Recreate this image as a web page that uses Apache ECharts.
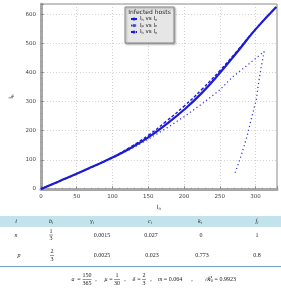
<!DOCTYPE html>
<html>
<head>
<meta charset="utf-8">
<script src="https://cdn.jsdelivr.net/npm/echarts@6/dist/echarts.min.js"></script>
<style>
  html, body { margin: 0; padding: 0; background: #fff; }
  #chart { width: 281px; height: 294px; }
</style>
</head>
<body>
<div id="chart"></div>
<script>
// curve data (I on the x axis, I on the y axis)
const hnX = [0, 25, 50, 75, 100, 125, 150, 175, 200, 225, 250, 275, 300, 329];
const hnY = [0, 26, 52, 80, 108, 140, 177, 222, 272, 330, 398, 472, 548, 625];

const pnX = [0, 50, 100, 125, 150, 175, 200, 225, 250, 268, 290, 312, 308, 304, 301, 295, 288, 280, 271];
const pnY = [0, 52, 106, 136, 171, 208, 248, 292, 340, 385, 428, 472, 420, 360, 306, 250, 180, 115, 52];

const hpX = [0, 50, 100, 125, 150, 175, 200, 225, 250, 275, 300, 329];
const hpY = [0, 52, 109, 144, 184, 232, 284, 342, 406, 476, 549, 625];

const seriesNames = ['hn', 'pn', 'hp'];
const legendSubs = [['h', 'n'], ['p', 'n'], ['h', 'n']];
const legendTitle = 'Infected hosts';

// parameter table
const colHeaders = [['i', ''], ['b', 'i'], ['γ', 'i'], ['c', 'i'], ['k', 'i'], ['f', 'i']];
const rowNames = ['n', 'p'];
const bFracs = [[1, 3], [2, 3]];
const gammaVals = ['0.0015', '0.0025'];
const cVals = ['0.027', '0.023'];
const kVals = ['0', '0.773'];
const fVals = ['1', '0.8'];

// constants under the table
const aFrac = [150, 365];
const muFrac = [1, 30];
const deltaFrac = [2, 3];
const mVal = '0.064';
const r0Val = '0.9923';

const serif = '"Liberation Serif", "DejaVu Serif", serif';
const sans = '"DejaVu Sans", "Liberation Sans", sans-serif';
const blue = '#1c1cd4';

const zip = (xs, ys) => xs.map((x, i) => [x, ys[i]]);

function txt(x, y, text, extra) {
    return {
        type: 'text', x: x, y: y, z: 10,
        style: Object.assign({
            text: text, fill: '#222', fontSize: 6, fontFamily: serif,
            align: 'center', verticalAlign: 'middle',
            textAlign: 'center', textVerticalAlign: 'middle',
        }, extra || {}),
    };
}

function frac(x, y, pair, w) {
    return [
        txt(x, y - 3.6, String(pair[0])),
        {type: 'line', z: 10, shape: {x1: x - w / 2, y1: y, x2: x + w / 2, y2: y},
            style: {stroke: '#333', lineWidth: 0.5}},
        txt(x, y + 3.9, String(pair[1])),
    ];
}

const subRich = {
    v: {fontSize: 6, fontStyle: 'italic', fontFamily: serif, fill: '#222'},
    s: {fontSize: 4, fontStyle: 'italic', fontFamily: serif, fill: '#222', padding: [3, 0, 0, 0]},
};

const colX = [16, 51, 102, 151, 201, 257];
const headerX = [16, 51, 92, 150, 200, 257];
const headerY = 221.5;
const rowY = [235, 255.5];

const graphics = [];

// legend box
graphics.push({
    type: 'rect', z: 3,
    shape: {x: 125, y: 7, width: 49, height: 36},
    style: {fill: '#e6e6e6', stroke: '#8a8a8a', lineWidth: 1,
        shadowBlur: 2, shadowOffsetX: 1, shadowOffsetY: 1, shadowColor: 'rgba(0,0,0,0.35)'},
});
graphics.push(txt(149.5, 12.5, legendTitle, {fontFamily: sans, fontSize: 6, fill: '#222'}));

// table header band
graphics.push({type: 'rect', z: 5, shape: {x: 0, y: 216, width: 281, height: 11},
    style: {fill: '#c2e3ec'}});
colHeaders.forEach((h, i) => {
    const s = h[1] ? `{v|${h[0]}}{s|${h[1]}}` : `{v|${h[0]}}`;
    graphics.push(txt(headerX[i], headerY, s, {rich: subRich}));
});

rowNames.forEach((r, j) => {
    const y = rowY[j];
    graphics.push(txt(colX[0] + j * 3, y, r, {fontStyle: 'italic'}));
    graphics.push(...frac(colX[1] + j, y, bFracs[j], 4));
    graphics.push(txt(colX[2], y, gammaVals[j]));
    graphics.push(txt(colX[3] + j, y, cVals[j]));
    graphics.push(txt(colX[4] + j, y, kVals[j]));
    graphics.push(txt(colX[5], y, fVals[j]));
});

graphics.push({type: 'line', z: 5, shape: {x1: 0, y1: 266.5, x2: 281, y2: 266.5},
    style: {stroke: '#6da7c6', lineWidth: 1}});

// constants line
const fy = 279.5;
const it = {fontStyle: 'italic'};
graphics.push(txt(73, fy, 'a', it));
graphics.push(txt(79, fy, '='));
graphics.push(...frac(87, fy, aFrac, 9));
graphics.push(txt(96, fy, ','));
graphics.push(txt(106, fy, 'μ', it));
graphics.push(txt(111, fy, '='));
graphics.push(...frac(117, fy, muFrac, 6));
graphics.push(txt(125, fy, ','));
graphics.push(txt(134, fy, 'δ', it));
graphics.push(txt(139, fy, '='));
graphics.push(...frac(144, fy, deltaFrac, 4));
graphics.push(txt(151, fy, ','));
graphics.push(txt(158, fy, `{v|m} = ${mVal}`, {align: 'left', textAlign: 'left', rich: {v: {fontStyle: 'italic', fontSize: 6, fontFamily: serif}}}));
graphics.push(txt(192, fy, ','));
graphics.push(txt(205, fy, `{r|ℛ}{s|0} = ${r0Val}`, {align: 'left', textAlign: 'left',
    rich: {r: {fontSize: 7, fontFamily: serif, fontStyle: 'italic'}, s: {fontSize: 4, fontFamily: serif, padding: [3, 0, 0, 0]}}}));

const axisRich = {
    i: {fontSize: 6, fontFamily: sans, color: '#333'},
    s: {fontSize: 4, fontFamily: sans, color: '#333', padding: [3, 0, 0, 0]},
};

const splitStyle = {show: true, lineStyle: {color: '#c4c4c4', type: [1, 2], width: 0.8}};

const option = {
    animation: false,
    backgroundColor: '#fff',
    grid: {left: 27, right: 4, top: 4, bottom: 105, show: true, borderColor: '#8a8a8a', borderWidth: 1},
    legend: {
        orient: 'vertical', left: 130, top: 16, padding: 0, itemGap: 0.5,
        itemWidth: 6, itemHeight: 4,
        data: seriesNames,
        formatter: name => {
            const sub = legendSubs[seriesNames.indexOf(name)];
            return `{i|I}{s|${sub[0]}}{i| vs I}{s|${sub[1]}}`;
        },
        textStyle: {fontSize: 5.5, color: '#222', padding: [0, 0, 0, -2], rich: {
            i: {fontSize: 5.5, fontFamily: sans, color: '#222'},
            s: {fontSize: 3.5, fontFamily: sans, color: '#222', padding: [2, 0, 0, 0]},
        }},
    },
    xAxis: {
        type: 'value', min: 0, max: 330, interval: 50,
        name: '{i|I}{s|n}', nameLocation: 'middle', nameGap: 14,
        nameTextStyle: {rich: axisRich},
        axisLine: {show: true, lineStyle: {color: '#a8a8a8', width: 3}},
        axisTick: {show: true, inside: true, length: 3, lineStyle: {color: '#666', width: 0.6}},
        minorTick: {show: true, splitNumber: 5, length: 1.5, lineStyle: {color: '#888', width: 0.5}},
        splitLine: splitStyle,
        axisLabel: {fontSize: 5.5, color: '#444', fontFamily: sans, margin: 5, showMaxLabel: false},
    },
    yAxis: {
        type: 'value', min: 0, max: 635, interval: 100,
        name: '{i|I}{s|h}', nameLocation: 'middle', nameGap: 23,
        nameTextStyle: {rich: axisRich},
        axisLine: {show: true, lineStyle: {color: '#a8a8a8', width: 3}},
        axisTick: {show: true, inside: true, length: 3, lineStyle: {color: '#666', width: 0.6}},
        minorTick: {show: true, splitNumber: 5, length: 1.5, lineStyle: {color: '#888', width: 0.5}},
        splitLine: splitStyle,
        axisLabel: {fontSize: 5.5, color: '#444', fontFamily: sans, margin: 5, showMaxLabel: false},
    },
    series: [
        {name: seriesNames[0], type: 'line', data: zip(hnX, hnY), symbol: 'none', smooth: true, z: 4,
            lineStyle: {color: blue, width: 2.2}, itemStyle: {color: blue}},
        {name: seriesNames[1], type: 'line', data: zip(pnX, pnY), symbol: 'none', smooth: false, z: 3,
            lineStyle: {color: '#3c3ce6', width: 1.3, type: [1.2, 2.8]}, itemStyle: {color: '#3c3ce6'}},
        {name: seriesNames[2], type: 'line', data: zip(hpX, hpY), symbol: 'none', smooth: true, z: 3,
            lineStyle: {color: blue, width: 1.4, type: [3, 2]}, itemStyle: {color: blue}},
    ],
    graphic: {elements: graphics},
};

const chart = echarts.init(document.getElementById('chart'), null, {renderer: 'canvas'});
chart.setOption(option);
</script>
</body>
</html>
